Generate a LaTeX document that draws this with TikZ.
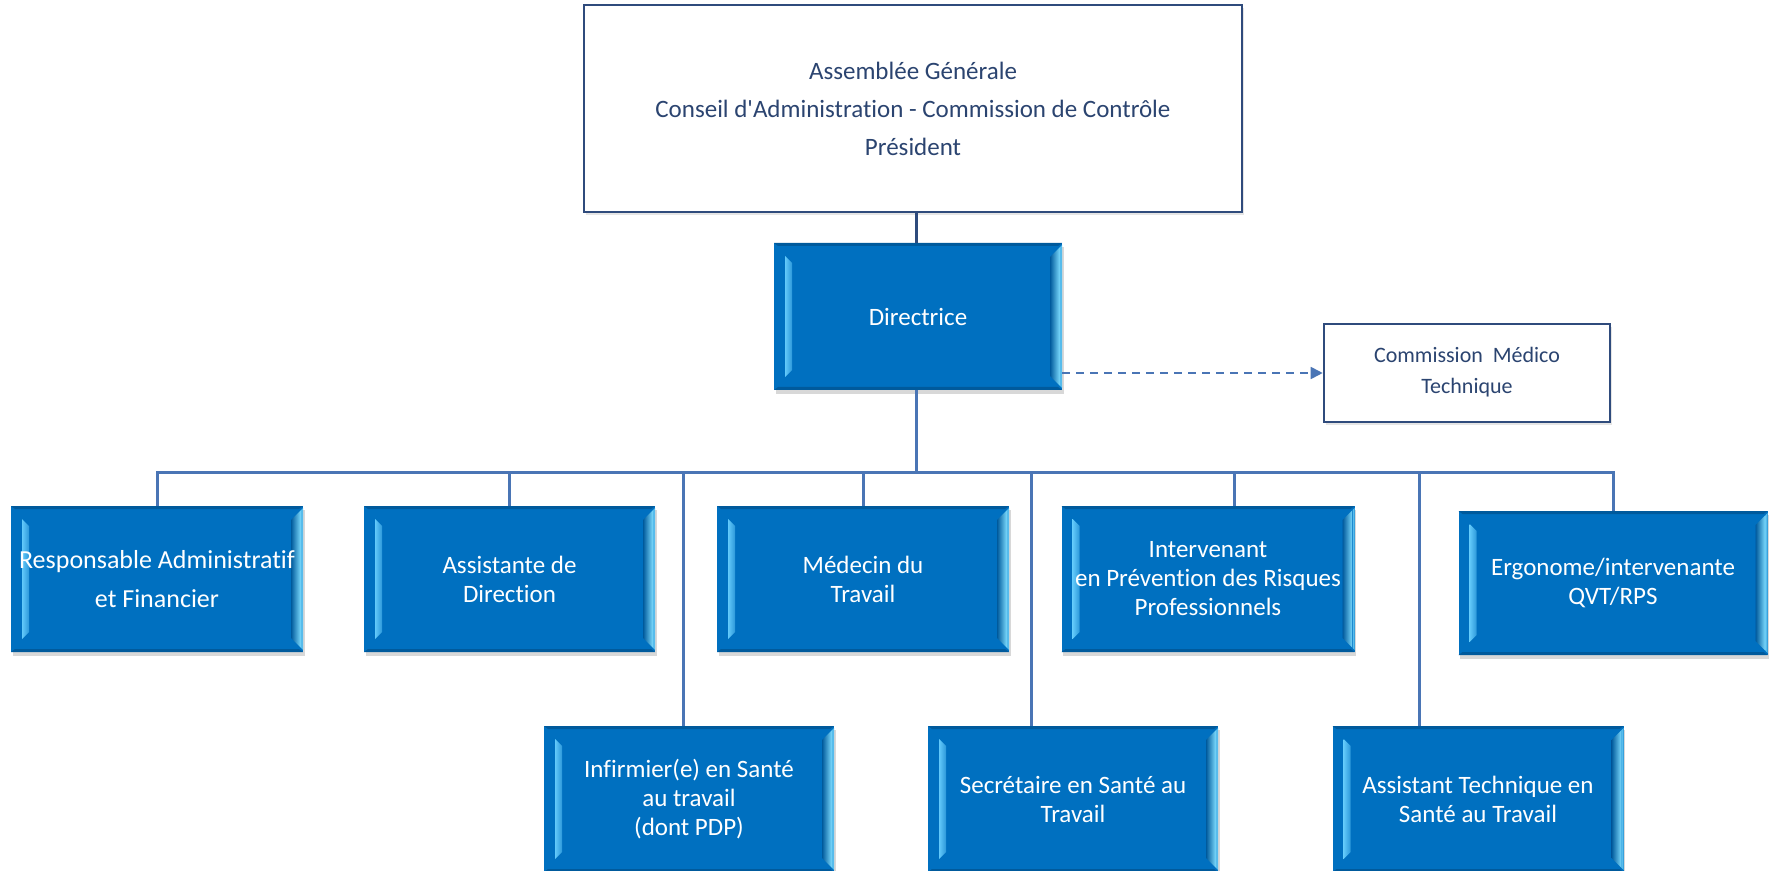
\documentclass[tikz,border=0pt]{standalone}
\usepackage{fontspec}
\setmainfont{Carlito}[Ligatures={NoCommon}]
\usetikzlibrary{arrows.meta,shadows}
\definecolor{boxblue}{HTML}{0070C0}
\definecolor{boxdark}{HTML}{005A9C}
\definecolor{hlcyan}{HTML}{7DDCFF}
\definecolor{hlleft}{HTML}{62C9FA}
\definecolor{lineblue}{HTML}{4A75B5}
\definecolor{navy}{HTML}{2F4B7C}
\definecolor{txtnavy}{HTML}{2B4470}
\tikzset{
  bluebox/.style 2 args={rectangle, fill=boxblue, text=white, align=center, inner sep=0pt,
    minimum width={#1*0.5pt}, minimum height={#2*0.5pt},
    font=\fontsize{12.5}{14.5}\selectfont,
    drop shadow={shadow xshift=0.8pt, shadow yshift=-1.8pt, opacity=0.3},
    path picture={
      \path (path picture bounding box.north west) coordinate (pNW)
            (path picture bounding box.north east) coordinate (pNE)
            (path picture bounding box.south west) coordinate (pSW)
            (path picture bounding box.south east) coordinate (pSE);
      % top and bottom thin darker edges
      \fill[boxdark] (pNW) -- (pNE) -- ([shift={(-2pt,-1.5pt)}]pNE) -- ([shift={(2pt,-1.5pt)}]pNW) -- cycle;
      \fill[boxdark] (pSW) -- (pSE) -- ([shift={(-2pt,1.5pt)}]pSE) -- ([shift={(2pt,1.5pt)}]pSW) -- cycle;
      % left highlight strip
      \shade[left color=hlleft, right color=hlleft!45!boxblue]
        ([shift={(5.5pt,-6.5pt)}]pNW) -- ([shift={(9pt,-10pt)}]pNW) --
        ([shift={(9pt,10pt)}]pSW) -- ([shift={(5.5pt,6.5pt)}]pSW) -- cycle;
      % right bevel
      \shade[left color=boxdark, right color=hlcyan]
        ([shift={(-6pt,-7pt)}]pNE) -- ([shift={(-1pt,-2pt)}]pNE) --
        ([shift={(-1pt,2pt)}]pSE) -- ([shift={(-6pt,7pt)}]pSE) -- cycle;
      \fill[hlcyan!70!boxblue] ([shift={(-1pt,-2pt)}]pNE) -- ([shift={(0pt,-1pt)}]pNE) --
        ([shift={(0pt,1pt)}]pSE) -- ([shift={(-1pt,2pt)}]pSE) -- cycle;
    }},
  whitebox/.style 2 args={rectangle, draw=navy, line width=1.3pt, fill=white, text=txtnavy,
    align=center, inner sep=0pt,
    minimum width={#1*0.5pt}, minimum height={#2*0.5pt},
    font=\fontsize{12.5}{14.5}\selectfont,
    drop shadow={shadow xshift=0.8pt, shadow yshift=-1.5pt, opacity=0.2}},
  conn/.style={lineblue, line width=1.5pt},
  topconn/.style={navy, line width=1.5pt},
  dasharrow/.style={lineblue, line width=0.9pt, dash pattern=on 4pt off 3pt,
    -{Triangle[length=6pt,width=6pt]}}
}
\begin{document}
\begin{tikzpicture}[x=0.5pt,y=-0.5pt]
\clip (0,0) rectangle (1771,871);
\fill[white] (0,0) rectangle (1771,871);

% top governance box
\node[whitebox={658}{207}] (top) at (913,108.5)
  {Assemblée Générale\\[4.5pt]Conseil d\textquotesingle Administration - Commission de Contrôle\\[4.5pt]Président};

% directrice
\node[bluebox={288}{147}] (dir) at (918,316.5) {Directrice};

% commission
\node[whitebox={286}{98}, font=\fontsize{11}{13}\selectfont] (comm) at (1467,373)
  {\raisebox{3pt}{\begin{tabular}{@{}c@{}}Commission~~Médico\\[2.5pt]Technique\end{tabular}}};

% row 1
\node[bluebox={292}{146}, font=\fontsize{13}{15}\selectfont] (resp) at (157,579) {Responsable Administratif\\[4.5pt]et Financier};
\node[bluebox={291}{146}] (assist) at (509.5,579) {Assistante de\\Direction};
\node[bluebox={292}{146}] (med) at (863,579) {Médecin du\\Travail};
\node[bluebox={293}{146}] (inter) at (1208,579) {Intervenant\\en Prévention des Risques\\Professionnels};
\node[bluebox={309}{144}] (ergo) at (1613,583) {Ergonome/intervenante\\QVT/RPS};

% row 2
\node[bluebox={290}{146}] (infi) at (689,799) {Infirmier(e) en Santé\\au travail\\(dont PDP)};
\node[bluebox={290}{146}] (secr) at (1073,799) {Secrétaire en Santé au\\Travail};
\node[bluebox={291}{146}] (asst) at (1478,799) {Assistant Technique en\\Santé au Travail};

% bus coordinates
\coordinate (bus) at (916,472);
\coordinate (binter) at (1234,472);
\coordinate (b1) at (683,472);
\coordinate (b2) at (1031,472);
\coordinate (b3) at (1419,472);

% connectors
\draw[topconn] (top.south -| bus) -- (dir.north -| bus);
\draw[conn] (dir.south -| bus) -- (bus);
\draw[conn] (resp.north) -- (resp.north |- bus) -- (ergo.north |- bus) -- (ergo.north);
\draw[conn] (assist.north |- bus) -- (assist.north);
\draw[conn] (med.north |- bus) -- (med.north);
\draw[conn] (binter) -- (binter |- inter.north);
\draw[conn] (b1) -- (b1 |- infi.north);
\draw[conn] (b2) -- (b2 |- secr.north);
\draw[conn] (b3) -- (b3 |- asst.north);
\draw[dasharrow] (comm.west -| dir.east) -- (comm.west);
\end{tikzpicture}
\end{document}
